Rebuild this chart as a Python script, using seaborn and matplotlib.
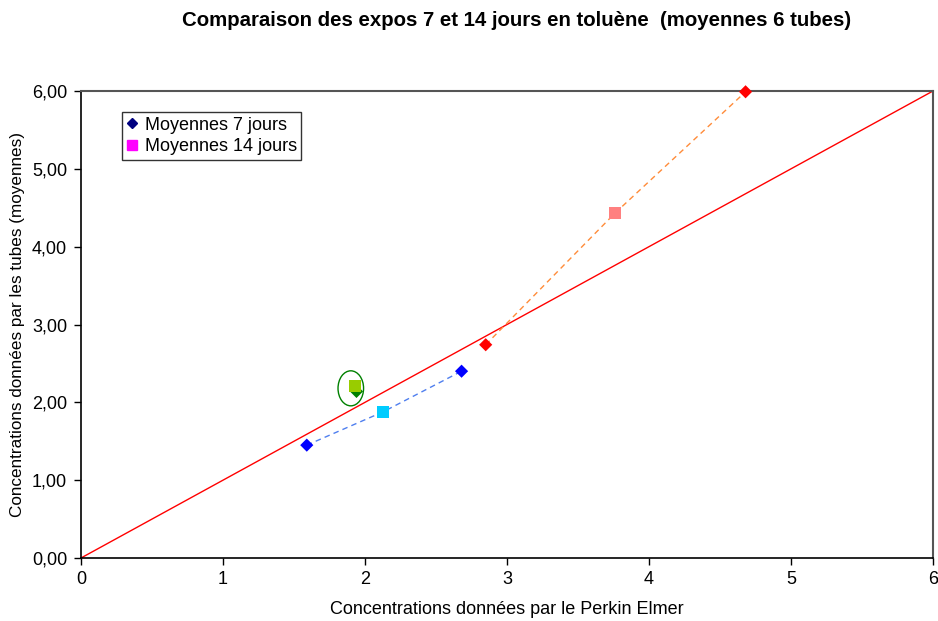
import matplotlib
matplotlib.use("Agg")
import matplotlib.pyplot as plt
import seaborn as sns
import pandas as pd
from matplotlib.patches import Ellipse

sns.set_theme(style="white")
plt.rcParams['font.family'] = ['Liberation Sans', 'DejaVu Sans']
plt.rcParams['text.color'] = 'black'
plt.rcParams['axes.labelcolor'] = 'black'

# Data
x7 = [1.59, 2.68]
y7 = [1.45, 2.40]
x14 = [2.13]
y14 = [1.88]
x7b = [2.85, 4.68]
y7b = [2.74, 5.99]
x14b = [3.76]
y14b = [4.43]
xg_d = [1.94]
yg_d = [2.14]
xg_s = [1.93]
yg_s = [2.21]
ref_x = [0, 6]
ref_y = [0, 6]
xticks = [0, 1, 2, 3, 4, 5, 6]
yticks = [0, 1, 2, 3, 4, 5, 6]

fig = plt.figure(figsize=(9.38, 6.21), dpi=100)
ax = fig.add_axes([81/938, 1-558/621, (933-81)/938, (558-91)/621])

# reference line y = x
sns.lineplot(x=ref_x, y=ref_y, ax=ax, color='#ff0000', lw=1.0, clip_on=False, zorder=2)

# dashed connecting lines
line1 = pd.DataFrame({'x': [x7[0], x14[0], x7[1]], 'y': [y7[0], y14[0], y7[1]]})
ax.plot(line1['x'], line1['y'], ls=(0, (4, 3)), color='#4f7fef', lw=1.0, zorder=3)
line2 = pd.DataFrame({'x': [x7b[0], x14b[0], x7b[1]], 'y': [y7b[0], y14b[0], y7b[1]]})
ax.plot(line2['x'], line2['y'], ls=(0, (4, 3)), color='#ff8c3a', lw=1.0, zorder=3)

# markers
sns.scatterplot(x=x7, y=y7, ax=ax, marker='D', s=45, color='#0000ff', edgecolor='none', zorder=5)
sns.scatterplot(x=x14, y=y14, ax=ax, marker='s', s=75, color='#00ccff', edgecolor='none', zorder=5)
sns.scatterplot(x=x7b, y=y7b, ax=ax, marker='D', s=45, color='#ff0000', edgecolor='none', zorder=5, clip_on=False)
sns.scatterplot(x=x14b, y=y14b, ax=ax, marker='s', s=75, color='#ff8080', edgecolor='none', zorder=5)
sns.scatterplot(x=xg_d, y=yg_d, ax=ax, marker='D', s=45, color='#008000', edgecolor='none', zorder=5)
sns.scatterplot(x=xg_s, y=yg_s, ax=ax, marker='s', s=75, color='#99cc00', edgecolor='none', zorder=6)

ax.add_patch(Ellipse((1.90, 2.18), 0.18, 0.45, fill=False, edgecolor='#008000', lw=1.0, zorder=7))

# legend proxies
h1, = ax.plot([], [], ls='none', marker='D', ms=5, color='#000080', label='Moyennes 7 jours')
h2, = ax.plot([], [], ls='none', marker='s', ms=7, color='#ff00ff', label='Moyennes 14 jours')
leg = ax.legend(handles=[h1, h2], loc='upper left', bbox_to_anchor=(41/852, 1-21/467),
                frameon=True, fancybox=False, fontsize=13, handlelength=0.6, handletextpad=0.4,
                borderpad=0.25, labelspacing=0.25, borderaxespad=0)
leg.get_frame().set_edgecolor('black')
leg.get_frame().set_linewidth(1.0)

ax.set_xlim(0, 6)
ax.set_ylim(0, 6)
ax.set_xticks(xticks)
ax.set_yticks(yticks)
ax.set_xticklabels([str(t) for t in xticks])
ax.set_yticklabels([f"{t:.2f}".replace('.', ',') for t in yticks])
ax.tick_params(axis='both', direction='out', length=5, width=1, labelsize=13, colors='black', pad=5,
               bottom=True, left=True)
ax.tick_params(axis='x', pad=4)

for s in ['left', 'bottom']:
    ax.spines[s].set_color('black')
    ax.spines[s].set_linewidth(1.2)
for s in ['top', 'right']:
    ax.spines[s].set_color('#555555')
    ax.spines[s].set_linewidth(1.5)

ax.set_xlabel('Concentrations données par le Perkin Elmer', fontsize=13)
ax.set_ylabel('Concentrations données par les tubes (moyennes)', fontsize=12.3)
ax.xaxis.set_label_coords(0.5, (558-609)/467)
ax.yaxis.set_label_coords((18-81)/852, 0.5)
ax.xaxis.label.set_va('center')
ax.yaxis.label.set_va('center')
fig.text(517/938, 1-20/621, 'Comparaison des expos 7 et 14 jours en toluène  (moyennes 6 tubes)',
         ha='center', va='center', fontsize=14.7, fontweight='bold')

fig.savefig('out.png', dpi=100)
